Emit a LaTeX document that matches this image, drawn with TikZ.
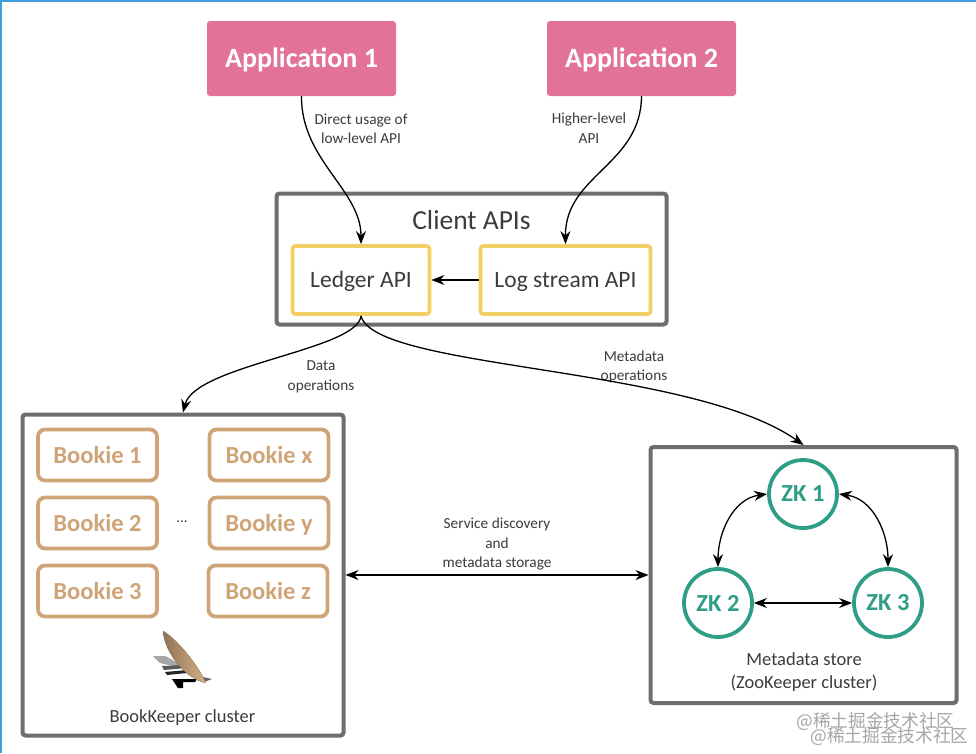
\documentclass[tikz,border=0pt]{standalone}
\usepackage{fontspec}
\setmainfont{Carlito}
\newfontfamily\cjkfont{Noto Sans CJK SC}
\usetikzlibrary{positioning}
\usetikzlibrary{arrows.meta}
\definecolor{appred}{HTML}{E27396}
\definecolor{boxgray}{HTML}{6E6E6E}
\definecolor{apiyellow}{HTML}{F2CF63}
\definecolor{bookiebrown}{HTML}{CFA578}
\definecolor{zkgreen}{HTML}{2E9E86}
\definecolor{edgeblue}{HTML}{3FA0DC}
\definecolor{labelgray}{HTML}{3C3C3C}

\begin{document}
\begin{tikzpicture}[x=1pt,y=-1pt]
	\tikzstyle{app}=[fill=appred,rounded corners=3pt,minimum width=189pt,minimum height=75pt,text=white,text height=18pt,text depth=0pt,font=\fontsize{28}{30}\selectfont\bfseries];
	\tikzstyle{group}=[draw=boxgray,line width=4pt,rounded corners=3pt,fill=white];
	\tikzstyle{api}=[draw=apiyellow,line width=3.8pt,rounded corners=3pt,minimum height=68pt,text=labelgray,text height=15pt,text depth=0pt,font=\fontsize{23.5}{25}\selectfont];
	\tikzstyle{bookie}=[draw=bookiebrown,line width=3.8pt,rounded corners=7pt,minimum width=119pt,minimum height=51pt,text=bookiebrown,text height=16pt,text depth=0pt,font=\fontsize{24.5}{25}\selectfont\bfseries];
	\tikzstyle{zk}=[draw=zkgreen,line width=3.8pt,shape=circle,minimum size=68pt,inner sep=0pt,fill=white,text=zkgreen,font=\fontsize{24.5}{25}\selectfont\bfseries];
	\tikzstyle{note}=[text=labelgray,align=center,font=\fontsize{15.3}{19.5}\selectfont];
	\tikzstyle{caption}=[text=labelgray,align=center,font=\fontsize{18.5}{23}\selectfont];
	\tikzstyle{conn}=[black,line width=1.3pt,-{Stealth[length=13pt,width=10pt]}];
	\tikzstyle{both}=[black,line width=1.3pt,{Stealth[length=13pt,width=10pt]}-{Stealth[length=13pt,width=10pt]}];
	\useasboundingbox (0,0) rectangle (976,753);
	\fill[white] (0,0) rectangle (976,753);
	\fill[edgeblue] (0,0) rectangle (976,2);
	\fill[edgeblue] (0,0) rectangle (2,753);
	\path (301.5,58.5) node[app] (app1) {Application 1};
	\path (641.5,58.5) node[app] (app2) {Application 2};
	\path (471.5,259) node[group,minimum width=390pt,minimum height=131pt] (client) {};
	\path (471.5,220) node[text=labelgray,font=\fontsize{27.5}{28}\selectfont] (clientlabel) {Client APIs};
	\path (361,280) node[api,minimum width=137pt] (ledger) {Ledger API};
	\path (565.5,280) node[api,minimum width=170pt] (logstream) {Log stream API};
	\path (183,575) node[group,minimum width=321pt,minimum height=321pt] (bk) {};
	\path (97.5,455) node[bookie] (b1) {Bookie 1};
	\path (97.5,523) node[bookie] (b2) {Bookie 2};
	\path (97.5,591) node[bookie] (b3) {Bookie 3};
	\path (269,455) node[bookie] (bx) {Bookie x};
	\path (269,523) node[bookie] (by) {Bookie y};
	\path (268,591) node[bookie] (bz) {Bookie z};
	\path (182,522) node[text=labelgray,font=\fontsize{15}{16}\selectfont] (dots) {...};
	\path (182.5,718) node[caption] (bklabel) {BookKeeper cluster};
	\fill[gray!70] (153,656) -- (165,656) -- (182,665) -- (177,667) -- (160,663) -- cycle;
	\fill[black!65] (162,666) -- (184,665) -- (186,668) -- (164,670) -- cycle;
	\fill[black!85] (165,672) -- (187,670) -- (187,673) -- (167,675) -- cycle;
	\fill[black] (172,679) -- (197,679) -- (195,682) -- (183,682) -- (183,688) -- (178,688) -- cycle;
	\fill[black!60] (203,677) -- (212,679) -- (204,682) -- cycle;
	\fill[left color=bookiebrown!70!black,right color=bookiebrown!90!white] (163,631) .. controls (178,640) and (198,665) .. (206,683) .. controls (188,680) and (165,655) .. (163,631) -- cycle;
	\path (803.5,575) node[group,minimum width=306pt,minimum height=256pt] (zkstore) {};
	\path (803,494) node[zk] (zk1) {ZK 1};
	\path (718,603) node[zk] (zk2) {ZK 2};
	\path (888,603) node[zk] (zk3) {ZK 3};
	\path (804,672) node[caption] (zklabel) {Metadata store\\(ZooKeeper cluster)};
	\path (361,129) node[note] (directnote) {Direct usage of\\low-level API};
	\path (589,128) node[note] (highernote) {Higher-level\\API};
	\path (321,377) node[note] (datanote) {Data\\operations};
	\path (634,367) node[note] (metanote) {Metadata\\operations};
	\path (497,544) node[note] (servicenote) {Service discovery\\and\\metadata storage};
	\path (875.5,722) node[text=gray!70,font=\cjkfont\fontsize{17.7}{18}\selectfont] (mark1) {@稀土掘金技术社区};
	\path (889.5,737) node[text=gray!70,font=\cjkfont\fontsize{17.7}{18}\selectfont] (mark2) {@稀土掘金技术社区};
	\draw[conn] (app1.south) .. controls (301,160) and (361,190) .. (ledger.north);
	\draw[conn] (app2.south) .. controls (641,165) and (565,175) .. (logstream.north);
	\draw[conn] (logstream.west) -- (ledger.east);
	\draw[conn] (ledger.south) .. controls (358,350) and (195,365) .. (bk.north);
	\draw[conn] (ledger.south) .. controls (375,370) and (690,365) .. (zkstore.north);
	\draw[both] (bk.east) -- (zkstore.west);
	\draw[both] (zk1.west) to[out=188,in=90] (zk2.north);
	\draw[both] (zk1.east) to[out=-8,in=90] (zk3.north);
	\draw[both] (zk2.east) -- (zk3.west);
\end{tikzpicture}
\end{document}
